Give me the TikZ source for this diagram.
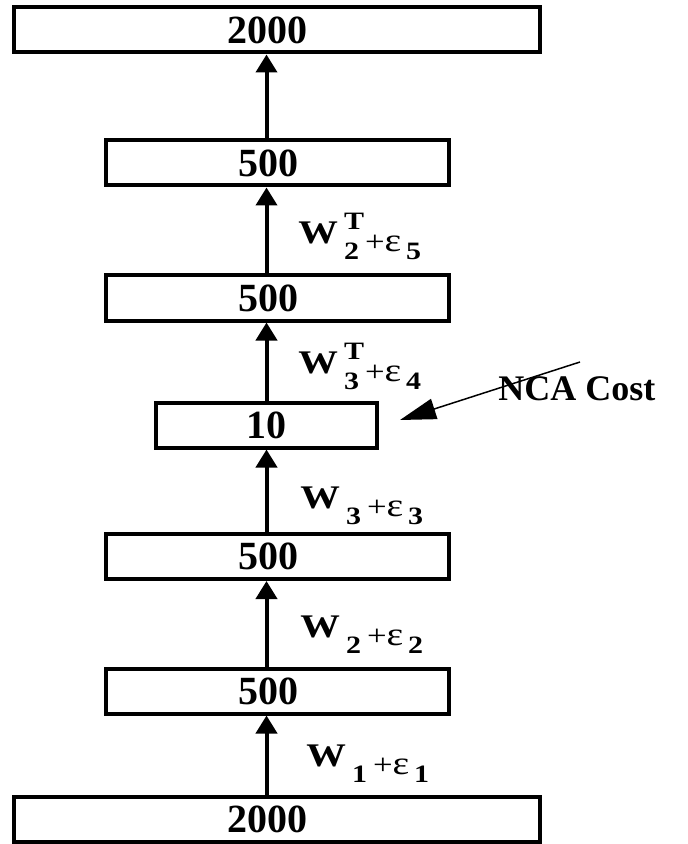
\documentclass[tikz,border=0pt]{standalone}
\usepackage{fontspec}
\setmainfont{Liberation Serif}
\usetikzlibrary{arrows.meta}

% weight label: W with sub/superscript, then +epsilon with subscript
\newcommand{\wlab}[3]{\scalebox{1.2}[1]{%
  {\fontsize{16.5}{16.5}\selectfont\bfseries W}%
  \hspace{2.5pt}%
  \rlap{\raisebox{7pt}{\fontsize{12.5}{12.5}\selectfont\bfseries #2}}%
  \raisebox{-8pt}{\fontsize{12.5}{12.5}\selectfont\bfseries #1}%
  \hspace{2.5pt}%
  \raisebox{-4pt}{\fontsize{14.5}{14.5}\selectfont +\fontsize{16.5}{16.5}\selectfont ε}%
  \hspace{2pt}%
  \raisebox{-8pt}{\fontsize{12.5}{12.5}\selectfont\bfseries #3}}}

\begin{document}
\begin{tikzpicture}[x=0.5pt, y=-0.5pt]
  \tikzset{
    layer/.style={draw, line width=2pt, minimum height=22.5pt, inner sep=0pt,
      font=\fontsize{20}{24}\selectfont\bfseries},
    offaxis/.style={execute at end node={\hspace{9.5pt}}},
    wide/.style={layer, offaxis, minimum width=263pt},
    mid/.style={layer, offaxis, minimum width=171.5pt},
    code/.style={layer, minimum width=110.5pt},
    flow/.style={line width=2pt, -{Triangle[length=9pt, width=10.5pt]}},
    wlabel/.style={anchor=base west, inner sep=0pt},
    pointer/.style={line width=0.75pt, -{Triangle[length=18pt, width=10.5pt]}},
  }
  \useasboundingbox (0,0) rectangle (687,844);

  %% ===== Layers, bottom to top =====
  \node[wide] (input) at (277,819) {2000};
  \node[mid] (h1) at (277.5,691) {500};
  \node[mid] (h2) at (277.5,556.5) {500};
  \node[code] (code) at (266.5,425) {10};
  \node[mid] (h3) at (277.5,298) {500};
  \node[mid] (h4) at (277.5,163) {500};
  \node[wide] (output) at (277,30) {2000};

  %% ===== Connections (on the axis of the code layer) =====
  \foreach \a/\b in {input/h1, h1/h2, h2/code, code/h3, h3/h4, h4/output}
    \draw[flow] (\a.north -| code.center) -- (\b.south -| code.center);

  %% ===== Weight labels =====
  \node[wlabel] (w1) at (306,766) {\wlab{1}{}{1}};
  \node[wlabel] (w2) at (300,637) {\wlab{2}{}{2}};
  \node[wlabel] (w3) at (300,508) {\wlab{3}{}{3}};
  \node[wlabel] (w4) at (298,373) {\wlab{3}{T}{4}};
  \node[wlabel] (w5) at (298,244) {\wlab{2}{T}{5}};

  %% ===== Cost pointer =====
  \node[anchor=base west, inner sep=0pt, font=\fontsize{18}{22}\selectfont\bfseries]
    (cost) at (498,400) {NCA Cost};
  \coordinate (costtail) at (580,362);
  \coordinate (costtip) at (400,420);
  \draw[pointer] (costtail) -- (costtip);
\end{tikzpicture}
\end{document}
